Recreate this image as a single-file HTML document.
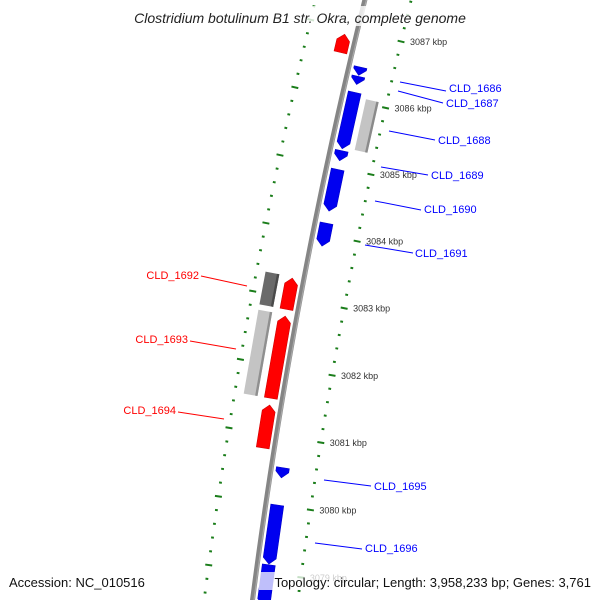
<!DOCTYPE html>
<html><head><meta charset="utf-8">
<style>
html,body{margin:0;padding:0;background:#fff;width:600px;height:600px;overflow:hidden;}
svg{display:block;font-family:"Liberation Sans","DejaVu Sans",sans-serif;overflow:hidden;}
</style></head>
<body>
<svg id="map" width="600" height="600" viewBox="0 0 600 600" xmlns="http://www.w3.org/2000/svg">
<g id="tracks"></g>
<g id="genes"></g>
<g id="labels"></g>
<rect x="110" y="6" width="380" height="20" fill="rgba(255,255,255,0.8)"/>
<text x="300" y="23" text-anchor="middle" font-size="14" font-style="italic" fill="#222">Clostridium botulinum B1 str. Okra, complete genome</text>
<rect x="6" y="572" width="140" height="18" fill="rgba(255,255,255,0.8)"/>
<text x="9" y="587" font-size="13" fill="#111">Accession: NC_010516</text>
<rect x="259" y="572" width="336" height="18" fill="rgba(255,255,255,0.75)"/>
<text x="591" y="587" text-anchor="end" font-size="13" fill="#111">Topology: circular; Length: 3,958,233 bp; Genes: 3,761</text>
</svg>
<script>
// data (kbp)
const majorTicks = [3079,3080,3081,3082,3083,3084,3085,3086,3087];
const tickLabels = ["3079 kbp","3080 kbp","3081 kbp","3082 kbp","3083 kbp","3084 kbp","3085 kbp","3086 kbp","3087 kbp"];
const revStarts = [3086.375,3086.24,3085.28,3085.10,3084.35,3083.83,3080.40,3079.13,3078.52];
const revEnds   = [3086.498,3086.36,3086.12,3085.25,3084.97,3084.17,3080.55,3080.00,3079.12];
const fwdStarts = [3086.64,3082.83,3081.52,3080.79];
const fwdEnds   = [3086.91,3083.29,3082.73,3081.42];
const orfInStarts = [3085.30];
const orfInEnds   = [3086.06];
const orfOutStarts = [3082.83,3081.52];
const orfOutEnds   = [3083.31,3082.75];
const orfOutShade = ["dark","light"];
const blueNames = ["CLD_1686","CLD_1687","CLD_1688","CLD_1689","CLD_1690","CLD_1691","CLD_1695","CLD_1696"];
const redNames = ["CLD_1692","CLD_1693","CLD_1694"];

const NS="http://www.w3.org/2000/svg";
const CX=5608, CY=1292, R0=5400, RIN=5355, ROUT=5448;
function pt(k,r){const b=0.2357+(k-3087)*0.012733;return [CX-r*Math.cos(b),CY-r*Math.sin(b)];}
function dir(k){const b=0.2357+(k-3087)*0.012733;return [Math.cos(b),Math.sin(b)];}
function mk(tag,attrs,parent){const e=document.createElementNS(NS,tag);for(const a in attrs)e.setAttribute(a,attrs[a]);parent.appendChild(e);return e;}
const tracks=document.getElementById('tracks'), genes=document.getElementById('genes'), labels=document.getElementById('labels');

function arcPath(r,k1,k2){let d='';for(let k=k1;k<=k2+1e-9;k+=0.1){const p=pt(k,r);d+=(d?'L':'M')+p[0].toFixed(2)+','+p[1].toFixed(2);}return d;}
let bb=mk('path',{d:arcPath(R0,3078.4,3088.2),stroke:'#858585','stroke-width':5,fill:'none'},tracks);


let bb2=mk('path',{d:arcPath(R0-1.5,3078.4,3088.2),stroke:'#a8a8a8','stroke-width':1.2,fill:'none'},tracks);



[RIN,ROUT].forEach((r)=>{
  for(let i=0;i<=55;i++){
    const k=3077.6+i*0.2;
    const major=Math.abs(k-Math.round(k))<0.01;
    const p=pt(k,r), d=dir(k), L=major?3.5:1.4;
    if(p[1]>598||p[1]<-2) continue;
    const t=mk('line',{x1:p[0]-d[0]*L,y1:p[1]-d[1]*L,x2:p[0]+d[0]*L,y2:p[1]+d[1]*L,stroke:'#1a7d1a','stroke-width':2},tracks);
    
    
  }
});
majorTicks.forEach((k,i)=>{
  const p=pt(k,RIN);
  const t=mk('text',{x:p[0]+9,y:p[1]+3.5,'font-size':9,fill:'#333'},tracks);
  t.textContent=tickLabels[i];
  
  
});

function arrow(k1,k2,r1,r2,fwd,fill,stroke,name){
  const h=Math.min(0.09,k2-k1), rm=(r1+r2)/2; let ps;
  if(fwd) ps=[pt(k1,r1),pt(k2-h,r1),pt(k2,rm),pt(k2-h,r2),pt(k1,r2)];
  else ps=[pt(k2,r1),pt(k1+h,r1),pt(k1,rm),pt(k1+h,r2),pt(k2,r2)];
  const e=mk('polygon',{points:ps.map(p=>p[0].toFixed(2)+','+p[1].toFixed(2)).join(' '),fill:fill,stroke:stroke,'stroke-width':0.6},genes);
  
  
}
function box(k1,k2,r1,r2,fill,edge,name){
  const ps=[pt(k1,r1),pt(k2,r1),pt(k2,r2),pt(k1,r2)];
  const e=mk('polygon',{points:ps.map(p=>p[0].toFixed(2)+','+p[1].toFixed(2)).join(' '),fill:fill},genes);
  
  
  const a=pt(k1,r1+1.2),b=pt(k2,r1+1.2);
  const l=mk('line',{x1:a[0],y1:a[1],x2:b[0],y2:b[1],stroke:edge,'stroke-width':2.4},genes);
  
  
}
revStarts.forEach((s,i)=>arrow(s,revEnds[i],5382,5395,false,'#0000f0','#0000c8','reverse-gene'));
fwdStarts.forEach((s,i)=>arrow(s,fwdEnds[i],5405,5418,true,'#ff0000','#d00000','forward-gene'));
orfInStarts.forEach((s,i)=>box(s,orfInEnds[i],5363,5376,'#c4c4c4','#8a8a8a','inner-orf'));
orfOutStarts.forEach((s,i)=>box(s,orfOutEnds[i],5425,5439,orfOutShade[i]==='dark'?'#6a6a6a':'#c4c4c4',orfOutShade[i]==='dark'?'#4a4a4a':'#8f8f8f','outer-orf'));

const blueLines=[[400,82,446,91,449,92],[398,91,443,103,446,107],[389,131,435,140,438,144],[381,167,428,175,431,179],[375,201,421,210,424,213],[365,245,413,253,415,257],[324,480,371,486,374,490],[315,543,362,549,365,552]];
const redLines=[[247,286,201,276,199,279],[236,349,190,341,188,343],[224,419,178,412,176,414]];
blueLines.forEach((c,i)=>{
  const l=mk('line',{x1:c[0],y1:c[1],x2:c[2],y2:c[3],stroke:'#0000ff','stroke-width':1},labels);
  
  
  const t=mk('text',{x:c[4],y:c[5],'font-size':11,fill:'#0000ff'},labels);
  t.textContent=blueNames[i];
  
  
});
redLines.forEach((c,i)=>{
  const l=mk('line',{x1:c[0],y1:c[1],x2:c[2],y2:c[3],stroke:'#ff0000','stroke-width':1},labels);
  
  
  const t=mk('text',{x:c[4],y:c[5],'font-size':11,fill:'#ff0000','text-anchor':'end'},labels);
  t.textContent=redNames[i];
  
  
});
</script>
</body></html>
